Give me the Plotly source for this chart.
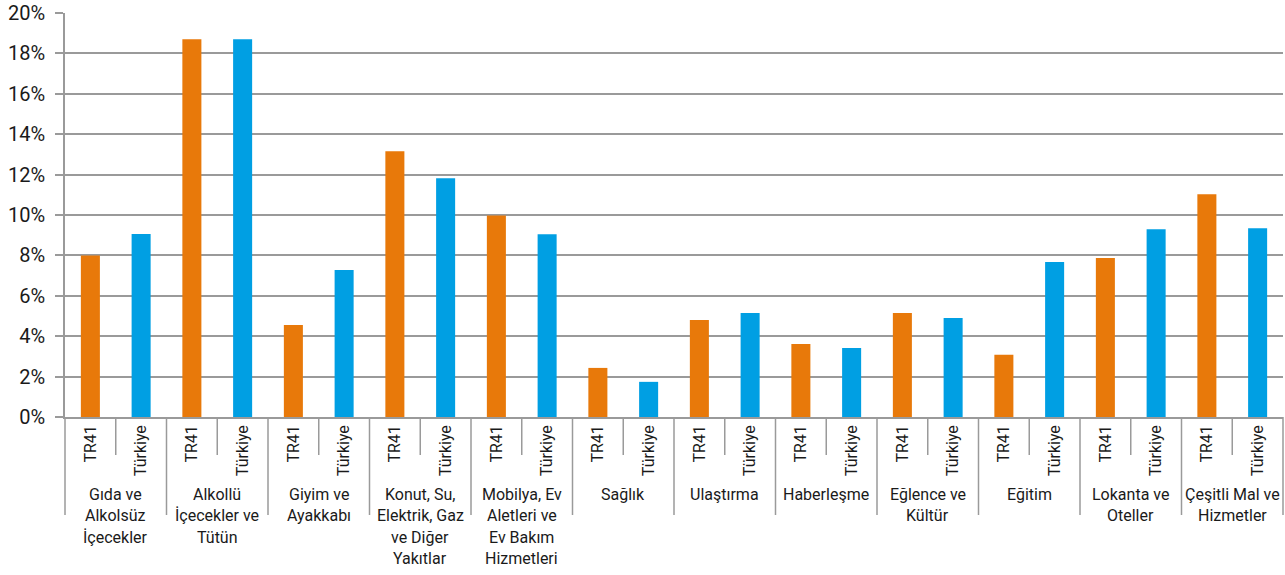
import plotly.graph_objects as go

categories = [
    "Gıda ve\nAlkolsüz\nİçecekler",
    "Alkollü\nİçecekler ve\nTütün",
    "Giyim ve\nAyakkabı",
    "Konut, Su,\nElektrik, Gaz\nve Diğer\nYakıtlar",
    "Mobilya, Ev\nAletleri ve\nEv Bakım\nHizmetleri",
    "Sağlık",
    "Ulaştırma",
    "Haberleşme",
    "Eğlence ve\nKültür",
    "Eğitim",
    "Lokanta ve\nOteller",
    "Çeşitli Mal ve\nHizmetler",
]
series_names = ["TR41", "Türkiye"]
tr41 = [8.0, 18.7, 4.56, 13.15, 9.98, 2.43, 4.80, 3.62, 5.15, 3.08, 7.87, 11.03]
turkiye = [9.06, 18.7, 7.28, 11.82, 9.05, 1.74, 5.15, 3.42, 4.90, 7.67, 9.30, 9.35]
y_ticks = [0, 2, 4, 6, 8, 10, 12, 14, 16, 18, 20]

ORANGE = "#E8790A"
BLUE = "#009FE3"
GRID = "#9a9a9a"
TEXT = "#1a1a1a"
FONT = "Roboto, Liberation Sans, sans-serif"

n = len(categories)
x_tr = [2 * i for i in range(n)]
x_tk = [2 * i + 1 for i in range(n)]
XMIN, XMAX = -0.5, 2 * n - 0.5

fig = go.Figure()
fig.add_trace(go.Bar(x=x_tr, y=tr41, name=series_names[0], marker_color=ORANGE,
                     width=0.375, marker_line_width=0))
fig.add_trace(go.Bar(x=x_tk, y=turkiye, name=series_names[1], marker_color=BLUE,
                     width=0.375, marker_line_width=0))

shapes = []
def px(b):
    return (b - XMIN) / (XMAX - XMIN)

# boundary ticks between every bar slot; longer ones separate the groups
for b in range(2 * n + 1):
    xb = b - 0.5
    long = (b % 2 == 0)
    shapes.append(dict(type="line", xref="paper", yref="paper",
                       x0=px(xb), x1=px(xb), ysizemode="pixel", yanchor=0,
                       y0=0, y1=-98 if long else -38,
                       line=dict(color=GRID, width=1.5)))

annotations = []
LINE0 = 77   # px below axis for first line centre
LSTEP = 21.5
for i, cat in enumerate(categories):
    for j, line in enumerate(cat.split("\n")):
        annotations.append(dict(x=2 * i + 0.5, xref="x", y=0, yref="paper",
                                text=line, showarrow=False, yanchor="middle",
                                xanchor="center", yshift=-(LINE0 + j * LSTEP),
                                font=dict(size=16, color=TEXT, family=FONT)))

fig.update_layout(
    width=1285, height=575, autosize=False,
    margin=dict(l=65, r=2, t=13, b=158),
    plot_bgcolor="white", paper_bgcolor="white",
    showlegend=False, barmode="overlay",
    font=dict(family=FONT, color=TEXT),
    shapes=shapes, annotations=annotations,
)
fig.update_xaxes(
    range=[XMIN, XMAX], automargin=False,
    tickvals=x_tr + x_tk,
    ticktext=[series_names[0]] * n + [series_names[1]] * n,
    tickangle=-90, ticks="", showgrid=False,
    showline=True, linecolor=GRID, linewidth=1.5,
    tickfont=dict(size=16, color=TEXT, family=FONT),
    zeroline=False,
)
fig.update_yaxes(
    range=[0, 20], tickvals=y_ticks, automargin=False,
    ticktext=[f"{v}%" for v in y_ticks],
    showgrid=True, gridcolor=GRID, gridwidth=1.5,
    showline=True, linecolor=GRID, linewidth=1.5,
    ticks="outside", ticklen=8, tickcolor=GRID, tickwidth=1.5,
    ticklabelstandoff=6, ticklabeloverflow="allow",
    tickfont=dict(size=20, color=TEXT, family=FONT),
    zeroline=False,
)

# remove the default 8px page margin so the figure sits at the window origin
fig.write_html("out.html", config={"displayModeBar": False},
               post_script="document.body.style.margin='0px';")
